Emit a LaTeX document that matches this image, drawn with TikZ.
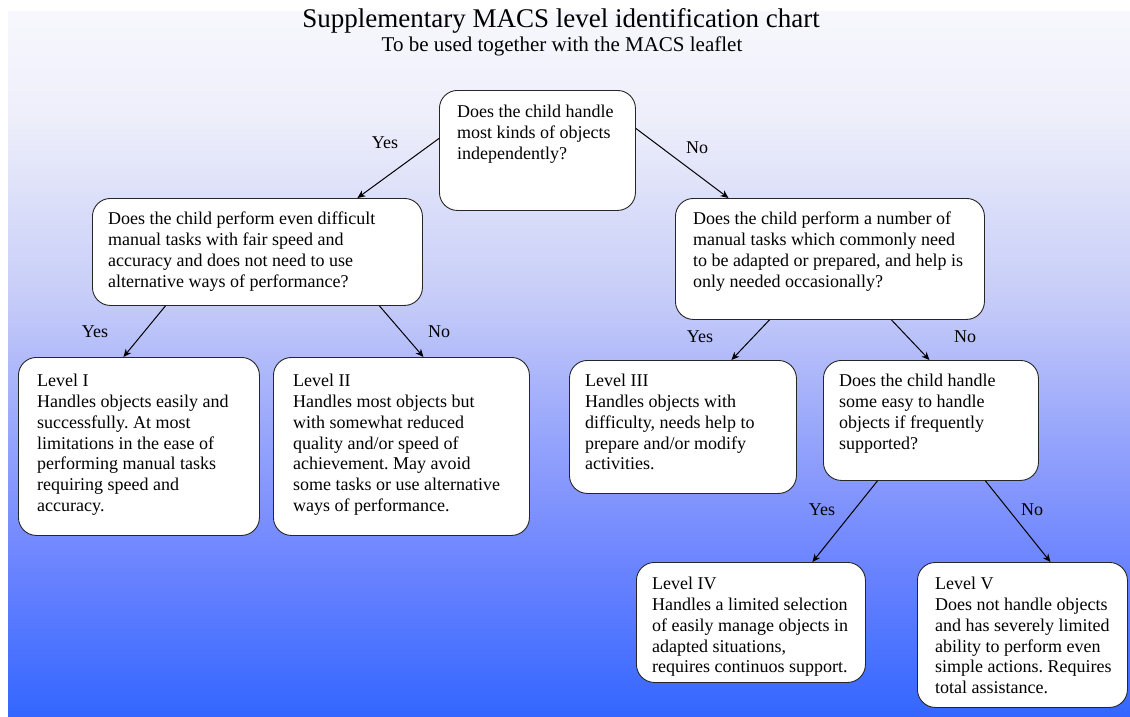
\documentclass[tikz,border=0pt]{standalone}
\usepackage{fontspec}
\setmainfont{Liberation Serif}
\usetikzlibrary{arrows.meta}
\frenchspacing
\definecolor{bgA}{HTML}{F7F7FD}
\definecolor{bgB}{HTML}{EDEEFA}
\definecolor{bgC}{HTML}{C6CCF8}
\definecolor{bgD}{HTML}{8E9EFC}
\definecolor{bgE}{HTML}{6D85FF}
\definecolor{bgF}{HTML}{3366FF}
\pgfdeclareverticalshading{macsbg}{100bp}{color(0bp)=(bgF); color(25bp)=(bgF); color(36.1bp)=(bgE); color(43.2bp)=(bgD); color(54.6bp)=(bgC); color(67.3bp)=(bgB); color(75bp)=(bgA); color(100bp)=(bgA)}
\tikzset{
  box/.style={draw=black!85, line width=0.9pt, fill=white, rounded corners=18pt, inner sep=0pt, anchor=north west},
  txt/.style={anchor=north west, inner sep=0pt, align=left, font=\fontsize{18}{20.8}\selectfont},
  lbl/.style={inner sep=0pt, font=\fontsize{18}{21}\selectfont},
  arr/.style={-{Stealth[length=8pt,width=7pt]}, line width=1pt, black}
}
\begin{document}
\begin{tikzpicture}[x=1pt,y=-1pt]
\useasboundingbox (0,0) rectangle (1130,717);
\fill[white] (0,0) rectangle (1130,717);
\shade[shading=macsbg] (8,12) rectangle (1130,717);

\node[anchor=base, inner sep=0pt, font=\fontsize{27}{30}\selectfont] (title) at (561,28) {Supplementary MACS level identification chart};
\node[anchor=base, inner sep=0pt, font=\fontsize{21}{24}\selectfont] (subtitle) at (562,52) {To be used together with the MACS leaflet};

% boxes
\node[box, minimum width=196pt, minimum height=120pt] (root) at (439,90) {};
\node[box, minimum width=330pt, minimum height=107pt] (q2) at (92,198) {};
\node[box, minimum width=309pt, minimum height=121pt] (q3) at (675,198) {};
\node[box, minimum width=241pt, minimum height=178pt] (l1) at (18,357) {};
\node[box, minimum width=256pt, minimum height=178pt] (l2) at (273,357) {};
\node[box, minimum width=227pt, minimum height=133pt] (l3) at (569,360) {};
\node[box, minimum width=215pt, minimum height=120pt] (q4) at (823,360) {};
\node[box, minimum width=229pt, minimum height=120pt] (l4) at (636,562) {};
\node[box, minimum width=210pt, minimum height=145pt] (l5) at (917,562) {};

% texts
\node[txt] (rootT) at ([shift={(18,15)}]root.north west) {Does the child handle\\most kinds of objects\\independently?};
\node[txt] (q2T) at ([shift={(16,14)}]q2.north west) {Does the child perform even difficult\\manual tasks with fair speed and\\accuracy and does not need to use\\alternative ways of performance?};
\node[txt] (q3T) at ([shift={(18,14)}]q3.north west) {Does the child perform a number of\\manual tasks which commonly need\\to be adapted or prepared, and help is\\only needed occasionally?};
\node[txt] (l1T) at ([shift={(19,17)}]l1.north west) {Level I\\Handles objects easily and\\successfully. At most\\limitations in the ease of\\performing manual tasks\\requiring speed and\\accuracy.};
\node[txt] (l2T) at ([shift={(20,17)}]l2.north west) {Level II\\Handles most objects but\\with somewhat reduced\\quality and/or speed of\\achievement. May avoid\\some tasks or use alternative\\ways of performance.};
\node[txt] (l3T) at ([shift={(16,14)}]l3.north west) {Level III\\Handles objects with\\difficulty, needs help to\\prepare and/or modify\\activities.};
\node[txt] (q4T) at ([shift={(16,14)}]q4.north west) {Does the child handle\\some easy to handle\\objects if frequently\\supported?};
\node[txt] (l4T) at ([shift={(16,15)}]l4.north west) {Level IV\\Handles a limited selection\\of easily manage objects in\\adapted situations,\\requires continuos support.};
\node[txt] (l5T) at ([shift={(18,15)}]l5.north west) {Level V\\Does not handle objects\\and has severely limited\\ability to perform even\\simple actions. Requires\\total assistance.};

% connectors
\draw[arr] ([yshift=12pt]root.west) -- ([xshift=100pt]q2.north);
\draw[arr] ([yshift=22pt]root.east) -- ([xshift=-101.5pt]q3.north);
\draw[arr] ([xshift=-92pt]q2.south) -- ([xshift=-15.5pt]l1.north);
\draw[arr] ([xshift=122pt]q2.south) -- ([xshift=22pt]l2.north);
\draw[arr] ([xshift=-60.5pt]q3.south) -- ([xshift=48.5pt]l3.north);
\draw[arr] ([xshift=61.5pt]q3.south) -- ([xshift=-1.5pt]q4.north);
\draw[arr] ([xshift=-53.5pt]q4.south) -- ([xshift=61.5pt]l4.north);
\draw[arr] ([xshift=54.5pt]q4.south) -- ([xshift=28pt]l5.north);

% labels
\node[lbl] (y1) at (385,143) {Yes};
\node[lbl] (n1) at (697,148) {No};
\node[lbl] (y2) at (95,332) {Yes};
\node[lbl] (n2) at (439,332) {No};
\node[lbl] (y3) at (700,337) {Yes};
\node[lbl] (n3) at (965,337) {No};
\node[lbl] (y4) at (822,510) {Yes};
\node[lbl] (n4) at (1032,510) {No};
\end{tikzpicture}
\end{document}
